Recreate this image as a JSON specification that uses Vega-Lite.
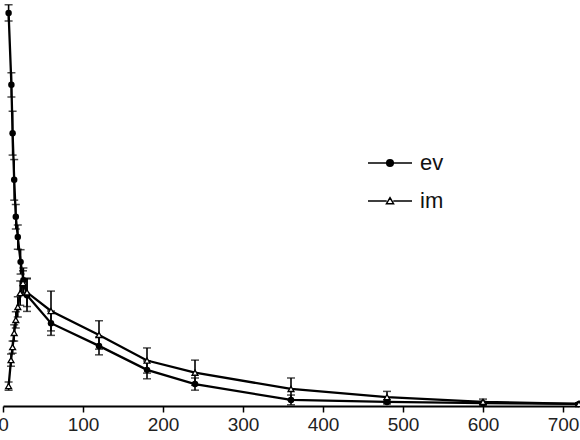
{
  "$schema": "https://vega.github.io/schema/vega-lite/v6.json",
  "width": 576,
  "height": 406,
  "autosize": {"type": "none"},
  "padding": {"left": 3, "top": 0, "right": 1, "bottom": 34},
  "background": "white",
  "config": {"view": {"stroke": null}, "font": "Liberation Sans"},
  "data": {
    "values": [
      {"series": "ev", "t": 7, "v": 96.8, "err": 2.0},
      {"series": "ev", "t": 10.5, "v": 79.1, "err": 3.0},
      {"series": "ev", "t": 12, "v": 67.2, "err": 5.4},
      {"series": "ev", "t": 14, "v": 55.7, "err": 5.0},
      {"series": "ev", "t": 16, "v": 46.6, "err": 3.0},
      {"series": "ev", "t": 18.5, "v": 41.6, "err": 3.0},
      {"series": "ev", "t": 22, "v": 35.5, "err": 3.0},
      {"series": "ev", "t": 25.5, "v": 31.0, "err": 3.0},
      {"series": "ev", "t": 30, "v": 27.3, "err": 4.0},
      {"series": "ev", "t": 60, "v": 20.4, "err": 3.0},
      {"series": "ev", "t": 120, "v": 14.8, "err": 2.2},
      {"series": "ev", "t": 180, "v": 8.9, "err": 2.2},
      {"series": "ev", "t": 240, "v": 5.4, "err": 1.5},
      {"series": "ev", "t": 360, "v": 1.5, "err": 1.2},
      {"series": "ev", "t": 480, "v": 1.0, "err": 0.5},
      {"series": "ev", "t": 600, "v": 0.7, "err": 0.4},
      {"series": "ev", "t": 720, "v": 0.5, "err": 0.3},
      {"series": "im", "t": 7, "v": 4.9, "err": 1.0},
      {"series": "im", "t": 10, "v": 11.3, "err": 1.5},
      {"series": "im", "t": 12, "v": 14.5, "err": 1.5},
      {"series": "im", "t": 14, "v": 18.0, "err": 2.0},
      {"series": "im", "t": 16, "v": 21.2, "err": 2.0},
      {"series": "im", "t": 18.5, "v": 24.4, "err": 2.5},
      {"series": "im", "t": 21.5, "v": 27.8, "err": 3.0},
      {"series": "im", "t": 25, "v": 30.3, "err": 3.0},
      {"series": "im", "t": 30, "v": 28.0, "err": 3.5},
      {"series": "im", "t": 60, "v": 23.4, "err": 4.9},
      {"series": "im", "t": 120, "v": 17.5, "err": 3.5},
      {"series": "im", "t": 180, "v": 11.2, "err": 3.1},
      {"series": "im", "t": 240, "v": 8.2, "err": 3.1},
      {"series": "im", "t": 360, "v": 4.2, "err": 2.7},
      {"series": "im", "t": 480, "v": 2.2, "err": 1.4},
      {"series": "im", "t": 600, "v": 1.0, "err": 0.7},
      {"series": "im", "t": 720, "v": 0.5, "err": 0.3}
    ]
  },
  "encoding": {
    "x": {
      "field": "t",
      "type": "quantitative",
      "scale": {"domain": [0, 720], "nice": false, "zero": true},
      "axis": {
        "title": null,
        "grid": false,
        "values": [0, 100, 200, 300, 400, 500, 600, 700],
        "domainColor": "black",
        "domainWidth": 2,
        "tickColor": "black",
        "tickWidth": 1.5,
        "tickSize": 6,
        "labelFontSize": 19,
        "labelColor": "#222222",
        "labelPadding": 3,
        "labelFlush": false,
        "labelOverlap": false
      }
    },
    "y": {
      "field": "v",
      "type": "quantitative",
      "scale": {"domain": [0, 100], "nice": false},
      "axis": null
    }
  },
  "layer": [
    {
      "mark": {"type": "errorbar", "ticks": {"size": 8, "color": "black", "thickness": 1.5}, "color": "black", "thickness": 1.6},
      "encoding": {
        "yError": {"field": "err"},
        "detail": {"field": "series"}
      }
    },
    {
      "mark": {"type": "line", "color": "black", "strokeWidth": 2.3},
      "encoding": {"detail": {"field": "series", "type": "nominal"}}
    },
    {
      "transform": [{"filter": "datum.series === 'ev'"}],
      "mark": {"type": "point", "shape": "circle", "filled": true, "color": "black", "opacity": 1, "size": 42},
      "encoding": {}
    },
    {
      "transform": [{"filter": "datum.series === 'im'"}],
      "mark": {"type": "point", "shape": "triangle-up", "filled": true, "fill": "white", "stroke": "black", "strokeWidth": 1.3, "opacity": 1, "size": 35},
      "encoding": {}
    },
    {
      "transform": [{"filter": "false"}],
      "mark": {"type": "point", "filled": false, "stroke": "black", "strokeWidth": 1.5, "opacity": 1},
      "encoding": {
        "shape": {
          "field": "series",
          "type": "nominal",
          "scale": {
            "domain": ["ev", "im"],
            "range": [
              "M-2,0H2M0.3,0A0.3,0.3,0,1,1,-0.3,0A0.3,0.3,0,1,1,0.3,0M0.2,0A0.2,0.2,0,1,1,-0.2,0A0.2,0.2,0,1,1,0.2,0M0.1,0A0.1,0.1,0,1,1,-0.1,0A0.1,0.1,0,1,1,0.1,0",
              "M-2,0H-0.3M0.3,0H2M0,-0.3L0.32,0.24L-0.32,0.24Z"
            ]
          },
          "legend": {
            "title": null,
            "orient": "none",
            "legendX": 375,
            "legendY": 151,
            "labelFontSize": 22,
            "labelColor": "#111111",
            "labelOffset": 18,
            "rowPadding": 15,
            "symbolSize": 484,
            "symbolStrokeWidth": 1.5,
            "symbolStrokeColor": "black",
            "symbolOpacity": 1
          }
        }
      }
    }
  ]
}
